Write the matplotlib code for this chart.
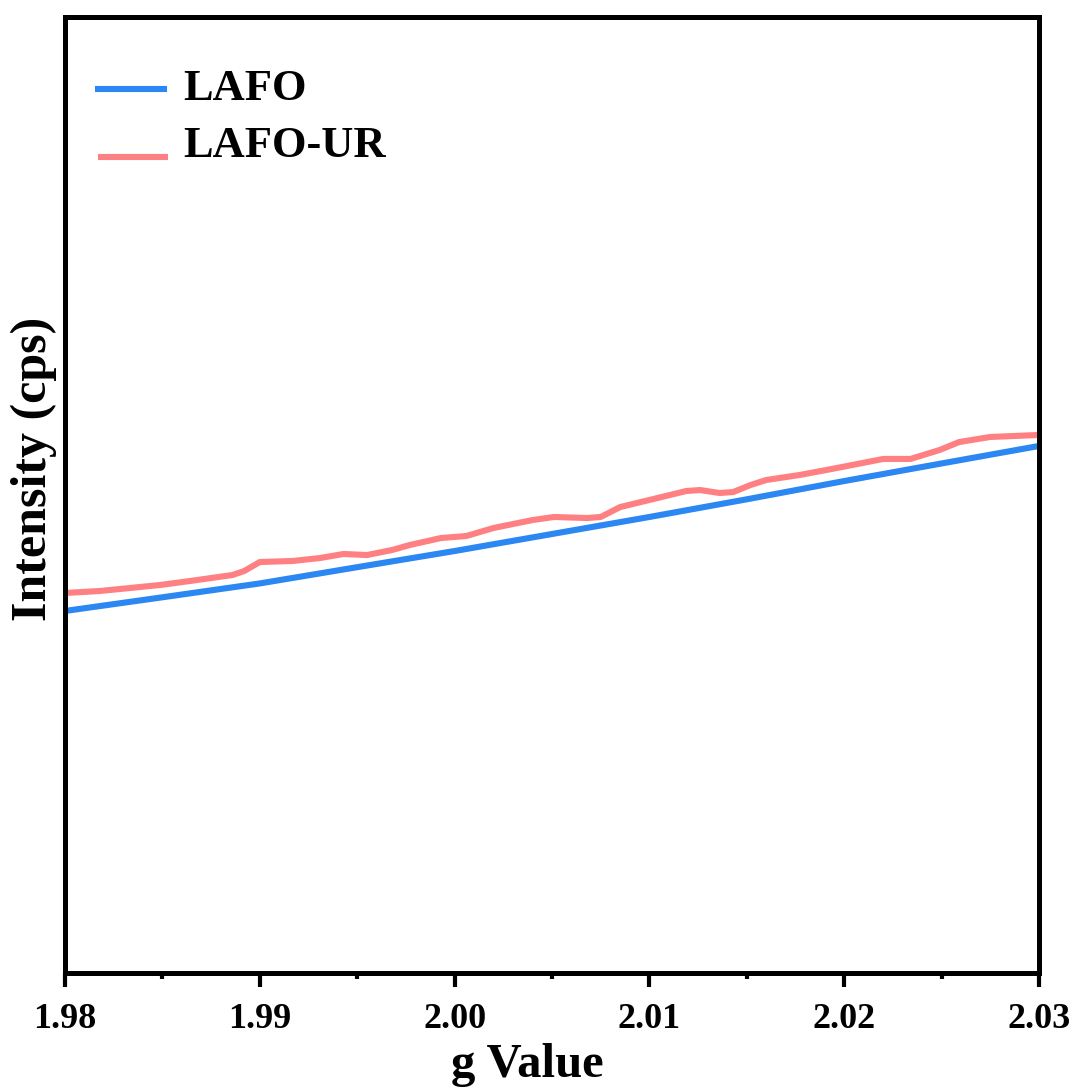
import matplotlib
matplotlib.use("Agg")
import matplotlib.pyplot as plt
from matplotlib.ticker import MultipleLocator

# EPR spectra in the g ~ 2 window
g_lafo = [1.9800, 1.9850, 1.9900, 1.9950, 2.0000, 2.0050, 2.0100, 2.0150, 2.0200, 2.0250, 2.0300]
i_lafo = [37.87, 39.30, 40.75, 42.45, 44.14, 45.92, 47.70, 49.55, 51.46, 53.30, 55.13]

g_lafo_ur = [1.9800, 1.9818, 1.9849, 1.9864, 1.9886, 1.9892, 1.9900, 1.9917, 1.9931,
             1.9943, 1.9955, 1.9968, 1.9977, 1.9993, 2.0006, 2.0020, 2.0040, 2.0051,
             2.0068, 2.0075, 2.0085, 2.0100, 2.0119, 2.0126, 2.0136, 2.0143, 2.0152,
             2.0160, 2.0177, 2.0191, 2.0220, 2.0234, 2.0249, 2.0259, 2.0275, 2.0300]
i_lafo_ur = [39.75, 39.96, 40.59, 41.00, 41.63, 42.05, 42.99, 43.10, 43.41,
             43.83, 43.72, 44.25, 44.77, 45.50, 45.71, 46.55, 47.38, 47.70,
             47.59, 47.70, 48.74, 49.48, 50.42, 50.52, 50.21, 50.31, 51.05,
             51.57, 52.09, 52.62, 53.77, 53.77, 54.71, 55.54, 56.07, 56.28]

series_names = ["LAFO", "LAFO-UR"]
series_colors = ["#2B87F2", "#FF8082"]
x_ticks = [1.98, 1.99, 2.00, 2.01, 2.02, 2.03]
x_tick_labels = ["1.98", "1.99", "2.00", "2.01", "2.02", "2.03"]

plt.rcParams["font.family"] = ["Liberation Serif", "DejaVu Serif"]
plt.rcParams["font.weight"] = "bold"

fig = plt.figure(figsize=(10.75, 10.88), dpi=100)
ax = fig.add_axes([65 / 1075, 1 - 973 / 1088, 974 / 1075, 956 / 1088])

lw = 4.4
line_kw = dict(lw=lw, solid_capstyle="butt", solid_joinstyle="round")
ax.plot(g_lafo, i_lafo, color=series_colors[0], **line_kw)
ax.plot(g_lafo_ur, i_lafo_ur, color=series_colors[1], **line_kw)

ax.set_xlim(1.98, 2.03)
ax.set_ylim(0, 100)
ax.set_xticks(x_ticks)
ax.set_xticklabels(x_tick_labels, fontsize=26, fontweight="bold")
ax.xaxis.set_minor_locator(MultipleLocator(0.005))
ax.set_yticks([])

for s in ax.spines.values():
    s.set_linewidth(3.6)
ax.tick_params(axis="x", which="major", direction="out", length=10, width=3, pad=11.5)
ax.tick_params(axis="x", which="minor", direction="out", length=4.5, width=3)

ax.set_xlabel("g Value", fontsize=35, fontweight="bold")
ax.set_ylabel("Intensity (cps)", fontsize=36, fontweight="bold")
ax.xaxis.set_label_coords(0.475, -0.073)
ax.yaxis.set_label_coords(-0.008, 0.527)

# Legend drawn in axes coordinates
handles_y = [0.9247, 0.8536]
handles_x = [(0.0308, 0.1047), (0.0339, 0.1057)]
text_y = [0.9132, 0.8536]
for name, col, hy, hx, ty in zip(series_names, series_colors, handles_y, handles_x, text_y):
    ax.plot(hx, [hy, hy], color=col, lw=lw, transform=ax.transAxes, solid_capstyle="butt")
    ax.text(0.1211, ty, name, transform=ax.transAxes, fontsize=32, fontweight="bold",
            va="baseline", ha="left")

fig.savefig("out.png", dpi=100)
